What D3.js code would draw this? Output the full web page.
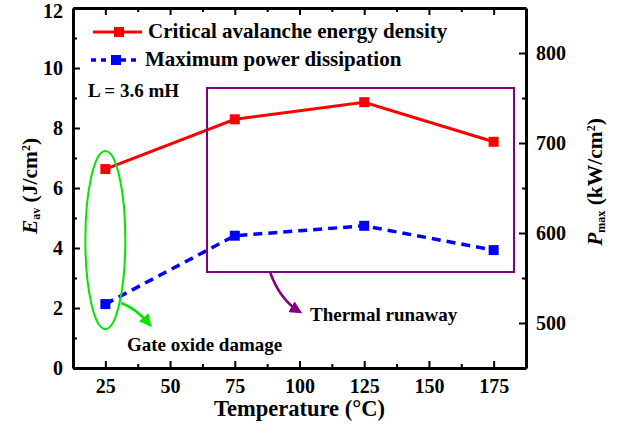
<!DOCTYPE html>
<html>
<head>
  <script src="https://d3js.org/d3.v7.min.js"></script>
  <style>
    body { margin: 0; background: #fff; }
  </style>
</head>
<body>
<script type="text/javascript">

  var w = 619;
  var h = 427;
  var serif = "'Liberation Serif', 'Times New Roman', Times, 'DejaVu Serif', serif";

  // data
  var temps = [25, 75, 125, 175];
  var energy = [6.63, 8.29, 8.86, 7.54];      // J/cm2, left axis
  var power = [521, 597, 608, 581];           // kW/cm2, right axis
  var seriesNames = ["Critical avalanche energy density", "Maximum power dissipation"];
  var xTicks = [25, 50, 75, 100, 125, 150, 175];
  var xMinor = [37.5, 62.5, 87.5, 112.5, 137.5, 162.5];
  var yLeftTicks = [0, 2, 4, 6, 8, 10, 12];
  var yLeftMinor = [1, 3, 5, 7, 9, 11];
  var yRightTicks = [500, 600, 700, 800];
  var yRightMinor = [550, 650, 750];

  var svg = d3.select("body").append("svg")
          .attr("width", w)
          .attr("height", h);

  var pLeft = 73, pRight = 526, pTop = 8, pBottom = 368;

  var xScale = d3.scaleLinear().domain([12.5, 187.5]).range([pLeft, pRight]);
  var yLeft = d3.scaleLinear().domain([0, 12]).range([pBottom, pTop]);
  var yRight = d3.scaleLinear().domain([450, 850]).range([pBottom, pTop]);

  // minor ticks first
  function minor(axis, vals, tx, ty) {
    svg.append("g")
       .attr("transform", "translate(" + tx + "," + ty + ")")
       .call(axis.tickValues(vals).tickSize(-4).tickFormat(""))
       .call(function(g){ g.select(".domain").remove(); })
       .selectAll("line").attr("stroke-width", 2);
  }
  minor(d3.axisBottom(xScale), xMinor, 0, pBottom);
  minor(d3.axisTop(xScale), xMinor, 0, pTop);
  minor(d3.axisLeft(yLeft), yLeftMinor, pLeft, 0);
  minor(d3.axisRight(yRight), yRightMinor, pRight, 0);

  // major axes
  var gx = svg.append("g").attr("transform", "translate(0," + pBottom + ")")
      .call(d3.axisBottom(xScale).tickValues(xTicks).tickSize(-7).tickSizeOuter(0).tickPadding(11));
  var gxt = svg.append("g").attr("transform", "translate(0," + pTop + ")")
      .call(d3.axisTop(xScale).tickValues(xTicks).tickSize(-7).tickSizeOuter(0).tickFormat(""));
  var gl = svg.append("g").attr("transform", "translate(" + pLeft + ",0)")
      .call(d3.axisLeft(yLeft).tickValues(yLeftTicks).tickSize(-7).tickSizeOuter(0).tickPadding(10));
  var gr = svg.append("g").attr("transform", "translate(" + pRight + ",0)")
      .call(d3.axisRight(yRight).tickValues(yRightTicks).tickSize(-7).tickSizeOuter(0).tickPadding(10));

  [gx, gxt, gl, gr].forEach(function(g){
    g.attr("font-size", null);
    g.select(".domain").attr("stroke-width", 3);
    g.selectAll(".tick line").attr("stroke-width", 2);
    g.selectAll(".tick text").attr("font-size", 20).attr("fill", "#000");
  });
  // keep the top "12" inside the page
  gl.selectAll(".tick text").filter(function(d){ return d === 12; }).attr("dy", "0.45em");

  // axis titles
  svg.append("text").attr("x", (pLeft + pRight) / 2).attr("y", 416)
     .attr("text-anchor", "middle").attr("font-size", 22.5)
     .text("Temperature (\u00B0C)");

  var tl = svg.append("text").attr("transform", "translate(37,186) rotate(-90)")
     .attr("text-anchor", "middle").attr("font-size", 21.5);
  tl.append("tspan").attr("font-style", "italic").text("E");
  tl.append("tspan").attr("font-size", 12).attr("baseline-shift", "-25%").text("av");
  tl.append("tspan").text(" (J/cm");
  tl.append("tspan").attr("font-size", 12).attr("baseline-shift", "60%").text("2");
  tl.append("tspan").text(")");

  var tr = svg.append("text").attr("transform", "translate(602,182) rotate(-90)")
     .attr("text-anchor", "middle").attr("font-size", 21.5);
  tr.append("tspan").attr("font-style", "italic").text("P");
  tr.append("tspan").attr("font-size", 12).attr("baseline-shift", "-25%").text("max");
  tr.append("tspan").text(" (kW/cm");
  tr.append("tspan").attr("font-size", 12).attr("baseline-shift", "60%").text("2");
  tr.append("tspan").text(")");

  // series
  var lineL = d3.line().x(function(d, i){ return xScale(temps[i]); }).y(function(d){ return yLeft(d); });
  var lineR = d3.line().x(function(d, i){ return xScale(temps[i]); }).y(function(d){ return yRight(d); });

  svg.append("path").attr("d", lineL(energy)).attr("fill", "none")
     .attr("stroke", "#ff0000").attr("stroke-width", 3);
  svg.append("path").attr("d", lineR(power)).attr("fill", "none")
     .attr("stroke", "#0000ff").attr("stroke-width", 3.5).attr("stroke-dasharray", "9,6");

  svg.selectAll("rect.e").data(energy).enter().append("rect").attr("class", "e")
     .attr("x", function(d, i){ return xScale(temps[i]) - 5; })
     .attr("y", function(d){ return yLeft(d) - 5; })
     .attr("width", 10).attr("height", 10).attr("fill", "#ff0000");
  svg.selectAll("rect.p").data(power).enter().append("rect").attr("class", "p")
     .attr("x", function(d, i){ return xScale(temps[i]) - 5; })
     .attr("y", function(d){ return yRight(d) - 5; })
     .attr("width", 10).attr("height", 10).attr("fill", "#0000ff");

  // legend
  svg.append("line").attr("x1", 93).attr("x2", 142).attr("y1", 32).attr("y2", 32)
     .attr("stroke", "#ff0000").attr("stroke-width", 3);
  svg.append("rect").attr("x", 114).attr("y", 27).attr("width", 10).attr("height", 10).attr("fill", "#ff0000");
  svg.append("text").attr("x", 148).attr("y", 38).attr("font-size", 21).text(seriesNames[0]);

  svg.append("line").attr("x1", 91).attr("x2", 141).attr("y1", 60).attr("y2", 60)
     .attr("stroke", "#0000ff").attr("stroke-width", 3.5).attr("stroke-dasharray", "5,5");
  svg.append("rect").attr("x", 111).attr("y", 55).attr("width", 10).attr("height", 10).attr("fill", "#0000ff");
  svg.append("text").attr("x", 145).attr("y", 66).attr("font-size", 21).text(seriesNames[1]);

  svg.append("text").attr("x", 88).attr("y", 97).attr("font-size", 19).text("L = 3.6 mH");

  // annotations
  var defs = svg.append("defs");
  function arrowHead(id, color) {
    defs.append("marker").attr("id", id).attr("viewBox", "0 0 10 10")
      .attr("refX", 8).attr("refY", 5).attr("markerWidth", 5).attr("markerHeight", 5)
      .attr("orient", "auto").attr("markerUnits", "strokeWidth")
      .append("path").attr("d", "M0,0 L10,5 L0,10 Z").attr("fill", color);
  }
  arrowHead("ag", "#00e600");
  arrowHead("ap", "#800080");

  svg.append("ellipse").attr("cx", xScale(25)).attr("cy", 240).attr("rx", 20).attr("ry", 89)
     .attr("fill", "none").attr("stroke", "#00e600").attr("stroke-width", 2);
  svg.append("path").attr("d", "M121,303 Q136,308 150,325")
     .attr("fill", "none").attr("stroke", "#00e600").attr("stroke-width", 2.5).attr("marker-end", "url(#ag)");
  svg.append("text").attr("x", 127).attr("y", 351).attr("font-size", 19).text("Gate oxide damage");

  svg.append("rect").attr("x", 207).attr("y", 88).attr("width", 307).attr("height", 184)
     .attr("fill", "none").attr("stroke", "#800080").attr("stroke-width", 2);
  svg.append("path").attr("d", "M270,272 Q280,300 300,312")
     .attr("fill", "none").attr("stroke", "#800080").attr("stroke-width", 2.5).attr("marker-end", "url(#ap)");
  svg.append("text").attr("x", 310).attr("y", 321).attr("font-size", 19).text("Thermal runaway");

  // same serif bold face on every text
  svg.selectAll("text, g").attr("font-family", serif).attr("font-weight", "bold");

</script>
</body>
</html>
